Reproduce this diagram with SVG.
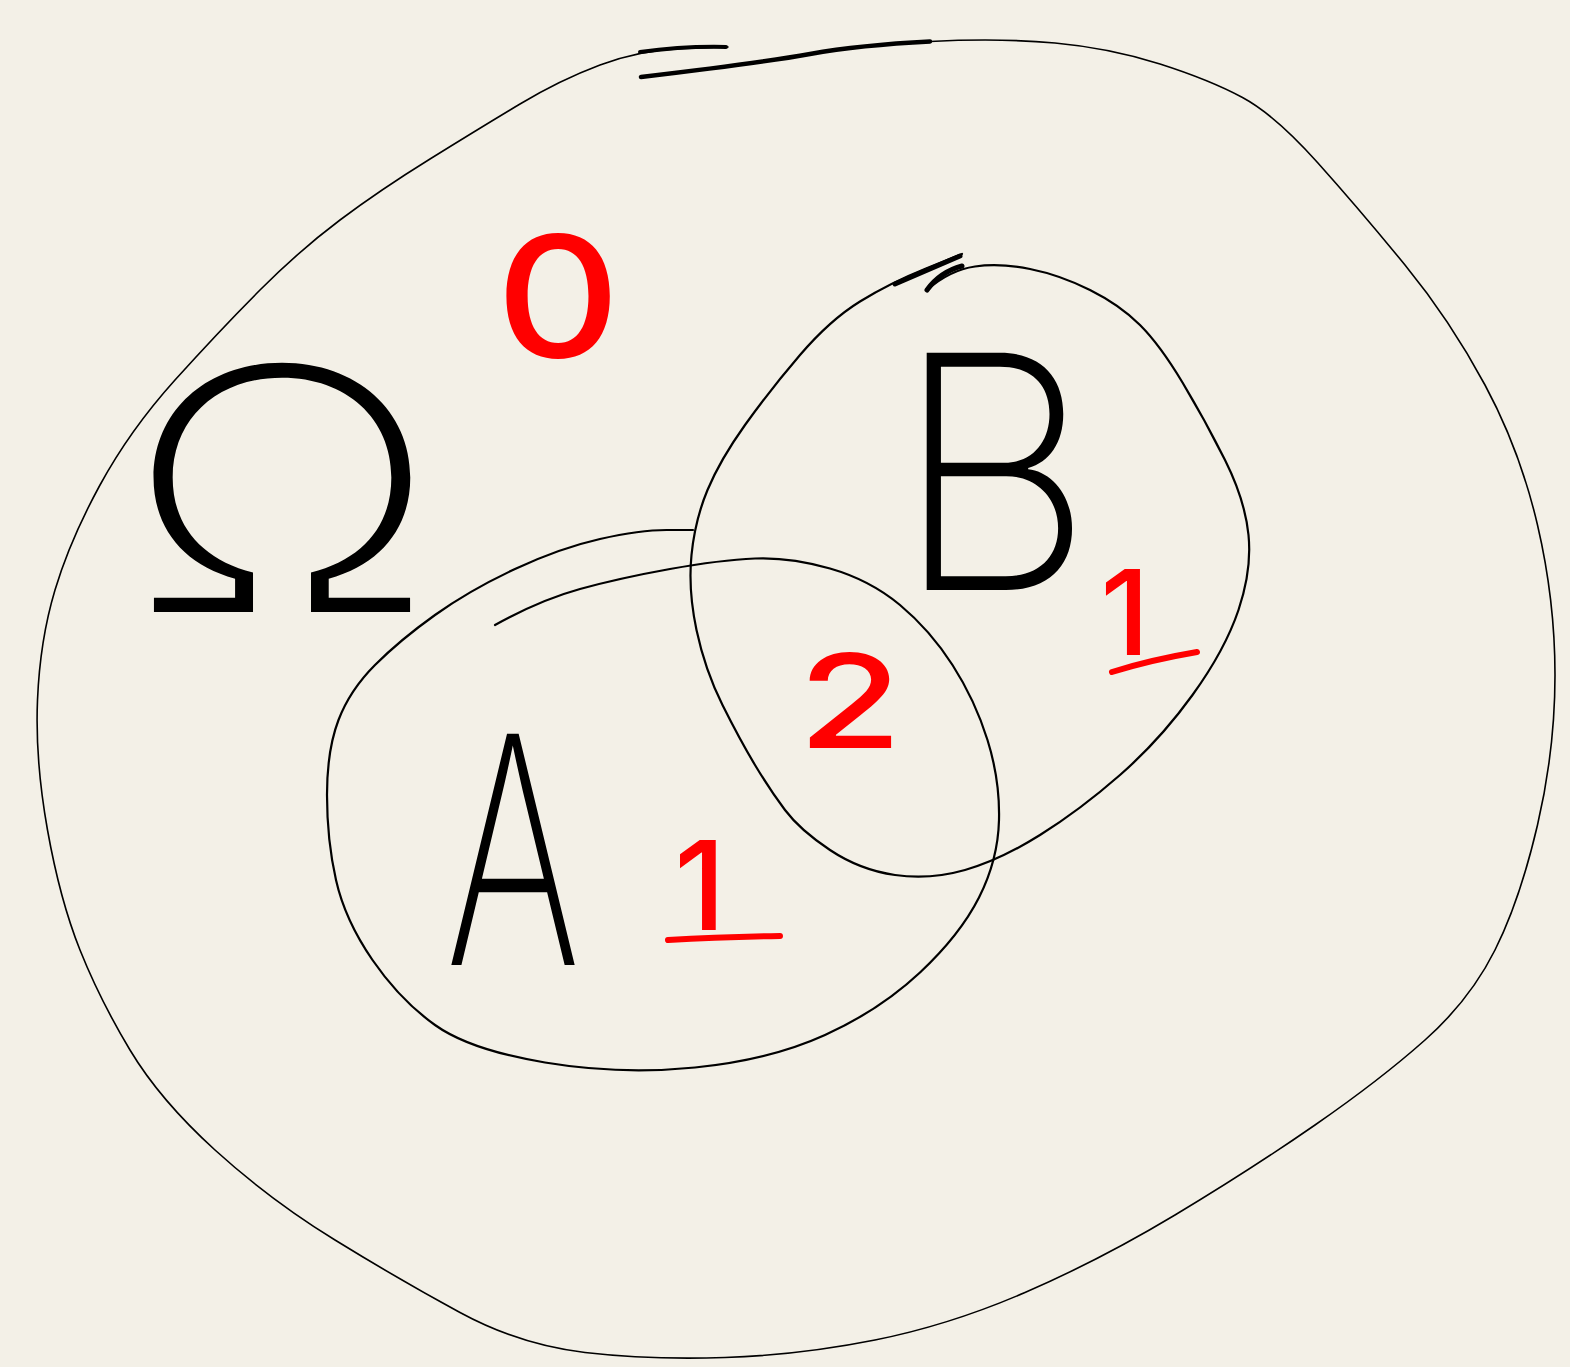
<svg xmlns="http://www.w3.org/2000/svg" width="1570" height="1367" viewBox="0 0 1570 1367">
<style>
.bg{fill:#f3f0e7}
.line{fill:none;stroke:#000;stroke-linecap:round;stroke-linejoin:round}
.lbl{font-family:Inter,"Liberation Sans",Arial,sans-serif;font-weight:200;fill:#000;text-anchor:middle}
.num{font-family:Inter,"Liberation Sans",Arial,sans-serif;fill:#ff0000;font-weight:500;text-anchor:middle}
.ul{fill:none;stroke:#ff0000;stroke-width:6;stroke-linecap:round}
</style>
<rect class="bg" x="0" y="0" width="1570" height="1367"/>
<g id="omega-set">
<path class="line" stroke-width="1.6" d="M641,77 Q760,63 810,54 Q860,45 930,41.5 Q1000,38 1055,43 Q1110,48 1160,64 Q1210,80 1242.5,97.5 Q1275,115 1317.5,162.5 Q1360,210 1405,265 Q1450,320 1485,385 Q1520,450 1537.5,525 Q1555,600 1555,675 Q1555,750 1537.5,825 Q1520,900 1495,950 Q1470,1000 1425,1040 Q1380,1080 1315,1125 Q1250,1170 1175,1215 Q1100,1260 1025,1292.5 Q950,1325 875,1340 Q800,1355 725,1357.5 Q650,1360 585,1352.5 Q520,1345 460,1312.5 Q400,1280 335,1240 Q270,1200 215,1150 Q160,1100 130,1050 Q100,1000 80,950 Q60,900 47.5,830 Q35,760 37.5,700 Q40,640 55,590 Q70,540 100,485 Q130,430 175,380 Q220,330 260,290 Q300,250 340,220 Q380,190 430,159 Q480,128 520,104 Q560,80 600,65 Q640,50 684,48.5 L728,47"/>
<path class="line" stroke-width="4.5" d="M641,77 Q760,63 810,54 Q860,45 930,41.5"/>
<path class="line" stroke-width="4" d="M640,52 Q684,46 726,47"/>
<text class="lbl" font-size="338" transform="translate(282,612) scale(1.22,1)">Ω</text>
</g>
<g id="set-a">
<path class="line" stroke-width="2.2" d="M495,625 Q540,600 580,589 Q620,578 670,569 Q720,560 755,558.5 Q790,557 830,568.5 Q870,580 900,605 Q930,630 952.5,665 Q975,700 987.5,740 Q1000,780 999,820 Q998,860 979,897.5 Q960,935 920,972.5 Q880,1010 825,1035 Q770,1060 695,1067.5 Q620,1075 545,1062.5 Q470,1050 435,1025 Q400,1000 372.5,960 Q345,920 336,880 Q327,840 327,795 Q327,750 338.5,720 Q350,690 375,665 Q400,640 435,615 Q470,590 515,569 Q560,548 600,539 Q640,530 666.5,530 L693,530"/>
<text class="lbl" font-size="318" transform="translate(513,965) scale(0.65,1)">A</text>
</g>
<g id="set-b">
<path class="line" stroke-width="2.2" d="M927,290 Q950,270 975,266.5 Q1000,263 1030,269 Q1060,275 1090,290 Q1120,305 1140,325 Q1160,345 1182.5,382.5 Q1205,420 1225,460 Q1245,500 1248.5,535 Q1252,570 1238.5,610 Q1225,650 1192.5,695 Q1160,740 1120,775 Q1080,810 1040,835 Q1000,860 965,870 Q930,880 895,875 Q860,870 830,850 Q800,830 785,810 Q770,790 755,765 Q740,740 722.5,705 Q705,670 696.5,630 Q688,590 691.5,555 Q695,520 707.5,490 Q720,460 745,425 Q770,390 800,355 Q830,320 860,301.5 Q890,283 926,268.5 L962,254"/>
<path class="line" stroke-width="5" d="M927,290 Q940,272 962,266"/>
<path class="line" stroke-width="5" d="M895,284 L960,256"/>
<text class="lbl" font-size="326" transform="translate(994,590) scale(0.95,1)">B</text>
</g>
<g id="counts">
<text class="num" font-size="168" transform="translate(558,357) scale(1.15,1)">0</text>
<text class="num" font-size="130" transform="translate(850,748) scale(1.3,1)">2</text>
<text class="num" x="700" y="930" font-size="124">1</text>
<path class="ul" d="M668,940 Q720,937 780,936"/>
<text class="num" x="1125" y="655" font-size="118">1</text>
<path class="ul" d="M1112,672 Q1150,660 1197,652"/>
</g>
<g id="connectors"></g>
</svg>
